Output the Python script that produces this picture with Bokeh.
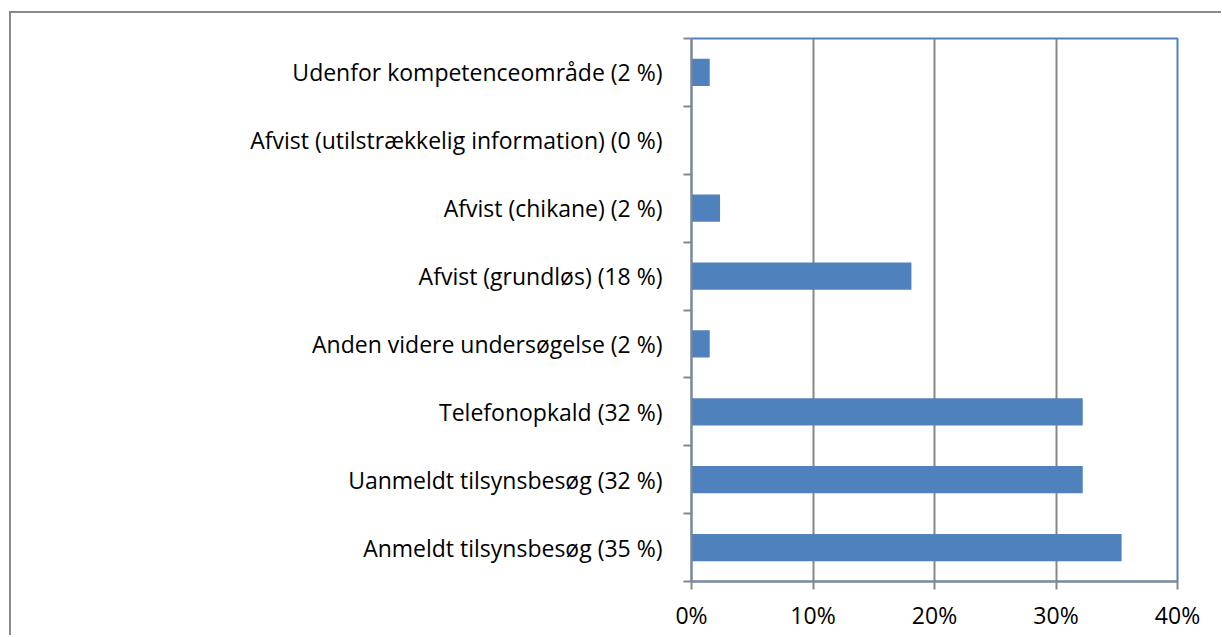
import numpy as np
from bokeh.plotting import figure
from bokeh.models import Range1d, FixedTicker, NumeralTickFormatter
from bokeh.embed import file_html
from bokeh.resources import INLINE

# Data (bottom to top)
categories = [
    "Anmeldt tilsynsbesøg (35 %)",
    "Uanmeldt tilsynsbesøg (32 %)",
    "Telefonopkald (32 %)",
    "Anden videre undersøgelse (2 %)",
    "Afvist (grundløs) (18 %)",
    "Afvist (chikane) (2 %)",
    "Afvist (utilstrækkelig information) (0 %)",
    "Udenfor kompetenceområde (2 %)",
]
values = [0.354, 0.322, 0.322, 0.015, 0.181, 0.0235, 0.0, 0.015]
x_ticks = [0.0, 0.1, 0.2, 0.3, 0.4]

n = len(categories)
ypos = np.arange(n) + 0.5

FONT = "Open Sans"
GRAY = "#878787"
BLUE = "#4F81BD"

p = figure(
    output_backend="svg",
    toolbar_location=None,
    x_range=Range1d(0, x_ticks[-1]),
    y_range=Range1d(0, n),
    frame_width=486,
    frame_height=543,
    min_border_left=680,
    min_border_top=25,
    min_border_right=44,
    min_border_bottom=54,
)
p.styles = {
    "border-left": "2px solid #8a8a8a",
    "border-top": "2px solid #8a8a8a",
    "border-right": "0px none",
    "border-bottom": "0px none",
    "margin-top": "11px",
    "margin-left": "9px",
}

p.hbar(y=ypos, right=values, left=0, height=0.4, fill_color=BLUE, line_color=None)

p.outline_line_color = BLUE
p.outline_line_width = 2

# grid
p.ygrid.visible = False
p.xgrid.ticker = FixedTicker(ticks=x_ticks)
p.xgrid.grid_line_color = GRAY
p.xgrid.grid_line_width = 2

# x axis
xa = p.xaxis[0]
xa.ticker = FixedTicker(ticks=x_ticks)
xa.formatter = NumeralTickFormatter(format="0%")
xa.axis_line_color = GRAY
xa.axis_line_width = 2
xa.major_tick_line_color = GRAY
xa.major_tick_line_width = 2
xa.major_tick_out = 8
xa.major_tick_in = 0
xa.minor_tick_line_color = None
xa.major_label_text_font = FONT
xa.major_label_text_font_size = "23px"
xa.major_label_text_color = "black"
xa.major_label_standoff = 9

# y axis
ya = p.yaxis[0]
ya.ticker = FixedTicker(ticks=[float(v) for v in ypos], minor_ticks=[float(i) for i in range(n + 1)])
ya.major_label_overrides = {float(v): c for v, c in zip(ypos, categories)}
ya.axis_line_color = GRAY
ya.axis_line_width = 2
ya.major_tick_line_color = None
ya.major_tick_out = 0
ya.major_tick_in = 0
ya.minor_tick_line_color = GRAY
ya.minor_tick_line_width = 2
ya.minor_tick_out = 8
ya.minor_tick_in = 0
ya.major_label_text_font = FONT
ya.major_label_text_font_size = "23px"
ya.major_label_text_color = "black"
ya.major_label_standoff = 21

open("out.html", "w").write(file_html(p, INLINE))
